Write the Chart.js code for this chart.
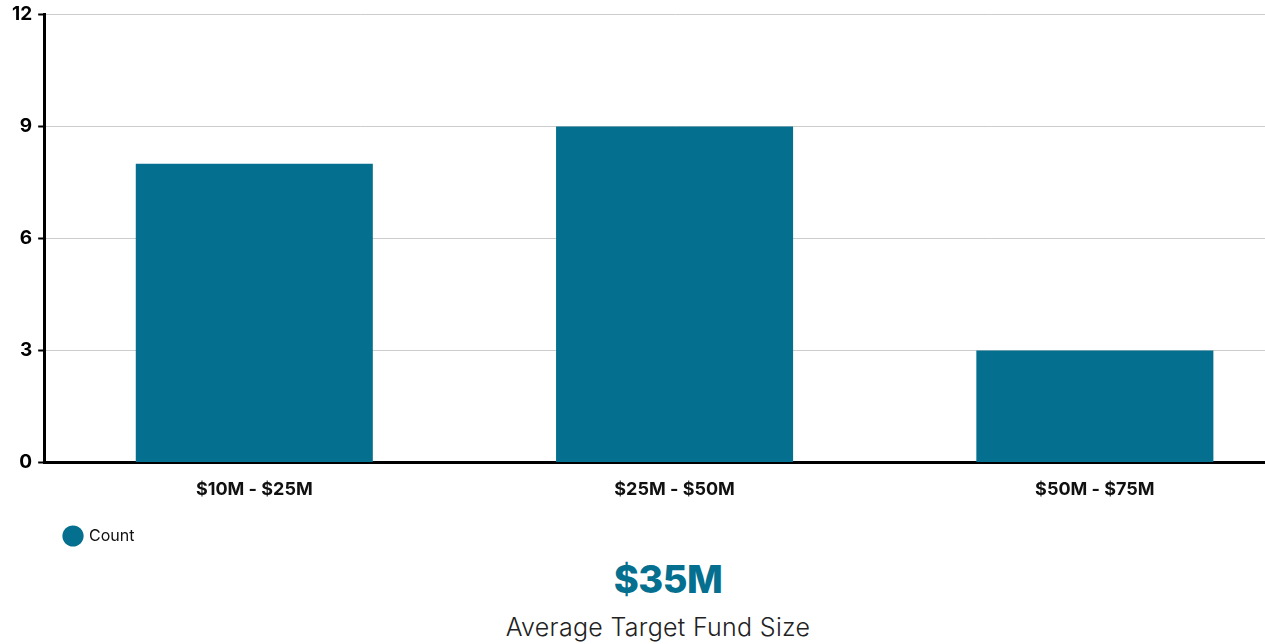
<!DOCTYPE html>
<html>
<head>
<meta charset="utf-8">
<script src="https://cdn.jsdelivr.net/npm/chart.js@4/dist/chart.umd.min.js"></script>
<style>
  html, body { margin: 0; padding: 0; background: #fff; overflow: hidden; width: 1265px; height: 644px; }
  #wrap { position: absolute; left: 0; top: -3px; width: 1305px; height: 557px; }
  .kpi { position: absolute; left: 0; text-align: center; font-family: "Inter", "Liberation Sans", sans-serif; }
  #value { top: 556px; width: 1336px; font-size: 38px; font-weight: 800; color: #046f8e; letter-spacing: -0.5px; }
  #caption { top: 612px; width: 1316px; font-size: 25px; font-weight: 300; color: #222; letter-spacing: 0.3px; }
</style>
</head>
<body>
<div id="wrap"><canvas id="chart"></canvas></div>
<div class="kpi" id="value">$35M</div>
<div class="kpi" id="caption">Average Target Fund Size</div>
<script>
// Fund size buckets and number of funds in each
const categories = ["$10M - $25M", "$25M - $50M", "$50M - $75M"];
const counts = [8, 9, 3];
const seriesName = "Count";
const yTicks = [0, 3, 6, 9, 12];

const teal = "#046f8e";
const fontFamily = "'Inter', 'Liberation Sans', sans-serif";

// Indent the legend so it sits under the plot rather than at the canvas edge
const legendIndent = {
  id: "legendIndent",
  afterLayout(chart) {
    if (chart.legend) {
      chart.legend.left += 47;
      chart.legend.right += 47;
    }
  }
};

new Chart(document.getElementById("chart"), {
  type: "bar",
  data: {
    labels: categories,
    datasets: [{
      label: seriesName,
      data: counts,
      backgroundColor: teal,
      borderWidth: 0,
      categoryPercentage: 1,
      barPercentage: 0.564
    }]
  },
  options: {
    responsive: true,
    maintainAspectRatio: false,
    animation: false,
    layout: { padding: { top: 2, left: 6, right: 0, bottom: 0 } },
    scales: {
      x: {
        grid: { display: false, drawTicks: false },
        border: { display: true, color: "#000", width: 3 },
        ticks: {
          color: "#111",
          padding: 16,
          font: { family: fontFamily, size: 18, weight: "bold" }
        }
      },
      y: {
        min: 0,
        max: 12,
        afterBuildTicks: (axis) => { axis.ticks = yTicks.map(v => ({ value: v })); },
        grid: { color: "#cccccc", lineWidth: 1, tickColor: "#000", tickLength: 6, tickWidth: 2 },
        border: { display: true, color: "#000", width: 3 },
        ticks: {
          color: "#000",
          padding: 6,
          font: { family: fontFamily, size: 19, weight: "bold" }
        }
      }
    },
    plugins: {
      legend: {
        position: "bottom",
        align: "start",
        labels: {
          usePointStyle: true,
          pointStyle: "circle",
          boxHeight: 15,
          color: "#111",
          padding: 12,
          font: { family: fontFamily, size: 16 }
        }
      },
      tooltip: { enabled: false }
    }
  },
  plugins: [legendIndent]
});
</script>
</body>
</html>
